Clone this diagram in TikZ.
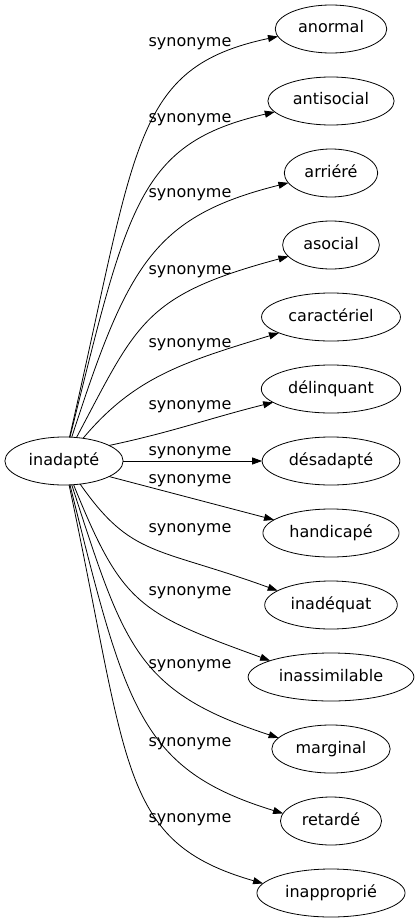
\documentclass[tikz,border=0pt]{standalone}
\usepackage{fontspec}
\setmainfont{DejaVu Sans}
\usetikzlibrary{shapes.geometric, arrows.meta, chains, positioning}

\begin{document}
\begin{tikzpicture}[
    x=1pt, y=1pt,
    node distance=24pt,
    start chain=going below,
    font=\fontsize{16}{19}\selectfont,
    word/.style={
        ellipse,
        draw,
        line width=0.8pt,
        outer sep=0pt,
        minimum height=48pt,
        inner xsep=6.5pt,
        inner ysep=2pt,
        text height=12pt,
        text depth=4pt
    },
    syn/.style={word, on chain},
    link/.style={-{Triangle[length=10pt,width=7pt]}, line width=0.8pt},
    lbl/.style={anchor=base, inner sep=0pt}
]
  \useasboundingbox (0,0) rectangle (419,-923);

  \node[word] (inadapte) at (64,-461) {inadapté};

  \node[syn] (anormal) at (331,-29) {anormal};
  \node[syn] (antisocial) {antisocial};
  \node[syn] (arriere) {arriéré};
  \node[syn] (asocial) {asocial};
  \node[syn] (caracteriel) {caractériel};
  \node[syn] (delinquant) {délinquant};
  \node[syn] (desadapte) {désadapté};
  \node[syn] (handicape) {handicapé};
  \node[syn] (inadequat) {inadéquat};
  \node[syn] (inassimilable) {inassimilable};
  \node[syn] (marginal) {marginal};
  \node[syn] (retarde) {retardé};
  \node[syn] (inapproprie) {inapproprié};

  % upper fan
  \draw[link] (inadapte) to[out=77, in=192, out distance=300pt, in distance=150pt] (anormal.188);
  \draw[link] (inadapte) to[out=76, in=193, out distance=240pt, in distance=140pt] (antisocial.191);
  \draw[link] (inadapte) to[out=72, in=194, out distance=180pt, in distance=140pt] (arriere.193);
  \draw[link] (inadapte) to[out=62, in=195, out distance=130pt, in distance=150pt] (asocial.195);
  \draw[link] (inadapte) to[out=50, in=197, out distance=80pt, in distance=100pt] (caracteriel.197);
  \draw[link] (inadapte.19) to[out=12, in=194] (delinquant.193);
  \draw[link] (inadapte) -- (desadapte);
  % lower fan
  \draw[link] (inadapte.-19) -- (handicape.167);
  \draw[link] (inadapte) to[out=-55, in=160, out distance=90pt, in distance=130pt] (inadequat.165);
  \draw[link] (inadapte) to[out=-68, in=160, out distance=130pt, in distance=140pt] (inassimilable.165);
  \draw[link] (inadapte) to[out=-72, in=162, out distance=170pt, in distance=150pt] (marginal.168);
  \draw[link] (inadapte) to[out=-76, in=163, out distance=230pt, in distance=150pt] (retarde.171);
  \draw[link] (inadapte) to[out=-78, in=164, out distance=290pt, in distance=150pt] (inapproprie.172);

  \node[lbl] (l-anormal) at (190,-47) {synonyme};
  \node[lbl] (l-antisocial) at (190,-122) {synonyme};
  \node[lbl] (l-arriere) at (190,-197) {synonyme};
  \node[lbl] (l-asocial) at (190,-274) {synonyme};
  \node[lbl] (l-caracteriel) at (190,-347) {synonyme};
  \node[lbl] (l-delinquant) at (190,-409) {synonyme};
  \node[lbl] (l-desadapte) at (190,-455) {synonyme};
  \node[lbl] (l-handicape) at (190,-483) {synonyme};
  \node[lbl] (l-inadequat) at (190,-532) {synonyme};
  \node[lbl] (l-inassimilable) at (190,-595) {synonyme};
  \node[lbl] (l-marginal) at (190,-668) {synonyme};
  \node[lbl] (l-retarde) at (190,-746) {synonyme};
  \node[lbl] (l-inapproprie) at (190,-822) {synonyme};
\end{tikzpicture}
\end{document}
